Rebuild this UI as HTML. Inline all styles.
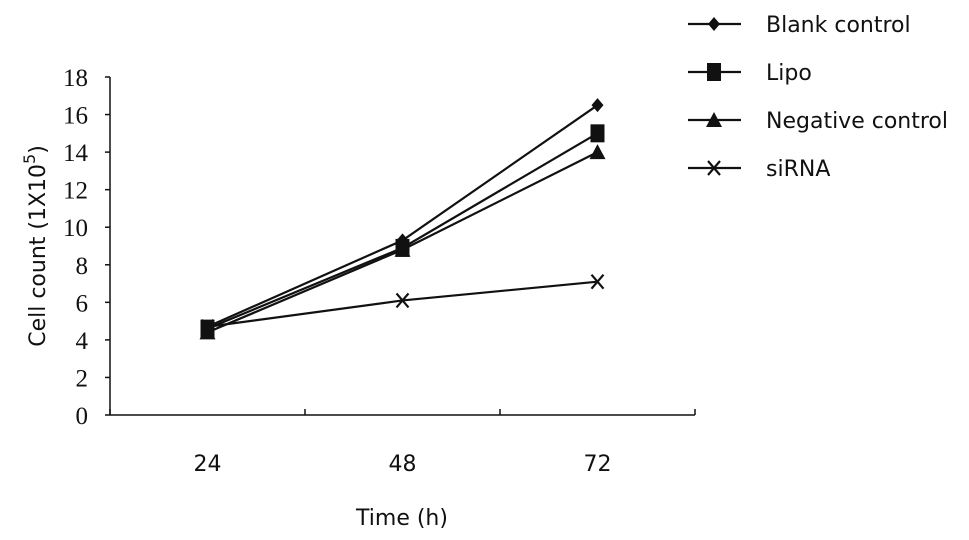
<!DOCTYPE html>
<html><head><meta charset="utf-8"><style>
html,body{margin:0;padding:0;background:#fff;}
svg{display:block;}
text{fill:#111;}
.serif{font-family:"Liberation Serif",serif;font-size:25px;}
.sans{font-family:"DejaVu Sans","Liberation Sans",sans-serif;font-size:22px;}
</style></head><body>
<svg id="chart" width="969" height="540" viewBox="0 0 969 540">
<g id="axes"></g>
<g id="series"></g>
<g id="legend"></g>
</svg>
<script>
const categories = ["24", "48", "72"];
const yTicks = [0, 2, 4, 6, 8, 10, 12, 14, 16, 18];
const seriesNames = ["Blank control", "Lipo", "Negative control", "siRNA"];
const blankValues = [4.7, 9.3, 16.5];
const lipoValues = [4.6, 8.9, 15.0];
const negativeValues = [4.4, 8.8, 14.0];
const sirnaValues = [4.7, 6.1, 7.1];

const NS = "http://www.w3.org/2000/svg";
const X0 = 110, X1 = 695, Y0 = 415, Y1 = 77, YMAX = 18;
function xPos(i){ return X0 + (X1 - X0) / categories.length * (i + 0.5); }
function yPos(v){ return Y0 - (Y0 - Y1) * v / YMAX; }
function mk(tag, attrs, parent){ const e = document.createElementNS(NS, tag); for (const k in attrs) e.setAttribute(k, attrs[k]); parent.appendChild(e); return e; }

const axes = document.getElementById('axes');
let a = mk('line', {x1:X0, y1:Y1, x2:X0, y2:Y0, stroke:'#111', 'stroke-width':1.5}, axes);


a = mk('line', {x1:X0, y1:Y0, x2:X1, y2:Y0, stroke:'#111', 'stroke-width':1.5}, axes);


yTicks.forEach(v => {
  const y = yPos(v);
  mk('line', {x1:X0-5, y1:y, x2:X0, y2:y, stroke:'#111', 'stroke-width':1.5}, axes);
  const t = mk('text', {x:88, y:y+9, 'text-anchor':'end', class:'serif'}, axes);
  t.textContent = v;
  
  
});
for (let i = 0; i <= categories.length; i++) {
  const x = X0 + (X1 - X0) / categories.length * i;
  mk('line', {x1:x, y1:Y0-6, x2:x, y2:Y0, stroke:'#111', 'stroke-width':1.5}, axes);
}
categories.forEach((c, i) => {
  const t = mk('text', {x:xPos(i), y:471, 'text-anchor':'middle', class:'sans'}, axes);
  t.textContent = c;
  
  
});
let t = mk('text', {x:402, y:525, 'text-anchor':'middle', class:'sans'}, axes);
t.textContent = 'Time (h)';


t = mk('text', {x:0, y:0, 'text-anchor':'middle', class:'sans', 'font-size':'23', transform:'translate(45,246) rotate(-90)'}, axes);
t.innerHTML = 'Cell count (1X10<tspan dy="-10" font-size="16">5</tspan><tspan dy="10">)</tspan>';



function marker(type, x, y, g){
  if (type === 'diamond') mk('polygon', {points:`${x},${y-7} ${x+6},${y} ${x},${y+7} ${x-6},${y}`, fill:'#111'}, g);
  else if (type === 'square') mk('rect', {x:x-7, y:y-9, width:14, height:18, fill:'#111'}, g);
  else if (type === 'triangle') mk('polygon', {points:`${x},${y-8} ${x+8},${y+7} ${x-8},${y+7}`, fill:'#111'}, g);
  else { mk('path', {d:`M${x-6},${y-7}L${x+6},${y+7}M${x+6},${y-7}L${x-6},${y+7}`, stroke:'#111', 'stroke-width':2.2, fill:'none'}, g); }
}
const allSeries = [blankValues, lipoValues, negativeValues, sirnaValues];
const markers = ['diamond', 'square', 'triangle', 'x'];
const sg = document.getElementById('series');
allSeries.forEach((vals, s) => {
  const g = mk('g', {}, sg);
  
  
  const pts = vals.map((v, i) => xPos(i) + ',' + yPos(v)).join(' ');
  mk('polyline', {points:pts, fill:'none', stroke:'#111', 'stroke-width':2.2}, g);
  vals.forEach((v, i) => {
    const m = mk('g', {}, g);
    
    
    marker(markers[s], xPos(i), yPos(v), m);
  });
});
const lg = document.getElementById('legend');
seriesNames.forEach((n, s) => {
  const y = 24 + s * 48;
  const g = mk('g', {}, lg);
  
  
  mk('line', {x1:688, y1:y, x2:741, y2:y, stroke:'#111', 'stroke-width':2.2}, g);
  marker(markers[s], 714, y, g);
  const tx = mk('text', {x:766, y:y+8, class:'sans', 'font-size':'24'}, g);
  tx.textContent = n;
});
</script>
</body></html>
